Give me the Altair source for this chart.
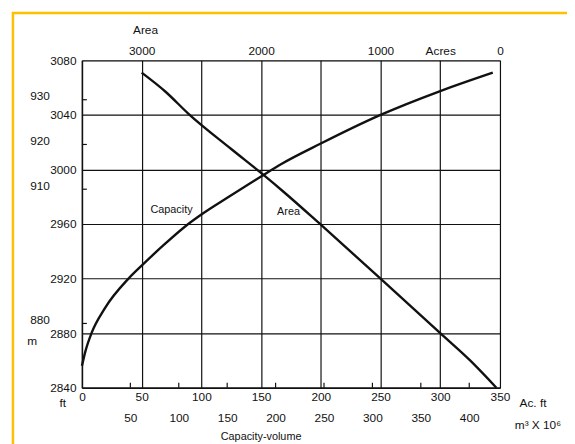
import altair as alt
import pandas as pd

# Capacity curve: capacity (1000 Ac.ft) vs elevation (ft)
cap_volume = [0, 3, 8, 19, 39, 50, 69, 89, 100, 123, 152, 167, 200, 250, 300, 344]
cap_elev = [2856, 2867, 2880, 2898, 2920, 2929.5, 2945, 2960, 2967, 2980, 2996, 3004, 3019, 3040, 3057.5, 3071]

# Area curve: area (acres) vs elevation (ft)
area_acres = [3000, 2800, 2610, 2250, 1980, 1810, 1500, 1000, 750, 500, 250, 30]
area_elev = [3071, 3057, 3041, 3015, 2996, 2983.5, 2959.5, 2920, 2900, 2880, 2860, 2840]

ft_ticks = [2840, 2880, 2920, 2960, 3000, 3040, 3080]
m_ticks = [880, 910, 920, 930]
cap_ticks = [0, 50, 100, 150, 200, 250, 300, 350]
m3_ticks = [50, 100, 150, 200, 250, 300, 350, 400]
area_ticks = [0, 500, 1000, 2000, 3000]

curve_labels = ["Capacity", "Area"]
curve_label_cap = [75, 173]
curve_label_elev = [2970, 2969]
x_title = "Capacity-volume"
x_title_cap = 150

W, H = 424, 332
FONT = "Liberation Sans"
INK = "#111111"
FT_PER_M = 3.2808
AF_TO_M3 = 1.2335

cap_df = pd.DataFrame({"cap": cap_volume, "elev": cap_elev})
area_df = pd.DataFrame({"area": area_acres, "elev": area_elev})
lab_df = pd.DataFrame({"label": curve_labels, "cap": curve_label_cap, "elev": curve_label_elev})
title_df = pd.DataFrame({"label": [x_title], "cap": [x_title_cap]})
m3_df = pd.DataFrame({"m3": m3_ticks})
m_df = pd.DataFrame({"m": m_ticks})

cap_scale = alt.Scale(domain=[0, 350], nice=False, zero=False)
ft_scale = alt.Scale(domain=[2840, 3080], nice=False, zero=False)

border = alt.Chart(pd.DataFrame({"a": [0]})).mark_rect(
    fill=None, stroke="#FFC000", strokeWidth=2.5
).encode(
    x=alt.value(-70), x2=alt.value(W + 200), y=alt.value(-48), y2=alt.value(H + 200)
)

cap_line = alt.Chart(cap_df).mark_line(
    color=INK, strokeWidth=2.4, interpolate="monotone"
).encode(
    x=alt.X("cap:Q", scale=cap_scale, axis=alt.Axis(
        orient="bottom", values=cap_ticks, format="d", grid=True, gridColor=INK,
        gridWidth=1.2, gridOpacity=1, tickSize=0, domainColor=INK, domainWidth=1.5,
        labelPadding=4, labelFlush=False, labelFontSize=12, labelFont=FONT, labelColor=INK,
        title="Ac. ft", titleX=457, titleY=15, titleAlign="center", titleBaseline="middle",
        titleFontSize=12, titleFont=FONT, titleFontWeight="normal", titleColor=INK)),
    y=alt.Y("elev:Q", scale=ft_scale, axis=alt.Axis(
        orient="left", values=ft_ticks, format="d", grid=True, gridColor=INK,
        gridWidth=1.2, gridOpacity=1, tickSize=0, domainColor=INK, domainWidth=1.5,
        labelPadding=6, labelFontSize=12, labelFont=FONT, labelColor=INK,
        title="ft", titleAngle=0, titleX=-20, titleY=347, titleAlign="center",
        titleBaseline="middle", titleFontSize=12, titleFont=FONT,
        titleFontWeight="normal", titleColor=INK)),
)

cap_text = alt.Chart(lab_df).mark_text(
    font=FONT, fontSize=11, color=INK
).encode(
    x=alt.X("cap:Q", scale=cap_scale, axis=None),
    y=alt.Y("elev:Q", scale=ft_scale, axis=None),
    text="label:N",
)

title_text = alt.Chart(title_df).mark_text(
    font=FONT, fontSize=11, color=INK
).encode(
    x=alt.X("cap:Q", scale=cap_scale, axis=None),
    y=alt.value(H + 50),
    text="label:N",
)

area_line = alt.Chart(area_df).mark_line(
    color=INK, strokeWidth=2.4, interpolate="monotone"
).encode(
    x=alt.X("area:Q", scale=alt.Scale(domain=[0, 3500], reverse=True, nice=False, zero=False),
            axis=alt.Axis(
                orient="top", values=area_ticks, format="d", grid=False, tickSize=0,
                domain=False, labelPadding=3, labelFlush=False, labelFontSize=12,
                labelFont=FONT, labelColor=INK,
                labelExpr="datum.value == 500 ? 'Acres' : datum.label",
                title="Area", titleX=64, titleY=-31, titleAlign="center",
                titleBaseline="middle", titleFontSize=12, titleFont=FONT,
                titleFontWeight="normal", titleColor=INK)),
    y=alt.Y("elev:Q", scale=ft_scale, axis=None),
)

m3_layer = alt.Chart(m3_df).mark_rule(color=INK, strokeWidth=1.2).encode(
    x=alt.X("m3:Q", scale=alt.Scale(domain=[0, 350 * AF_TO_M3], nice=False, zero=False),
            axis=alt.Axis(
                orient="bottom", offset=21, values=m3_ticks, format="d", grid=False,
                ticks=False, domain=False, labelPadding=4, labelFlush=False,
                labelFontSize=12, labelFont=FONT, labelColor=INK,
                title="m³ X 10⁶", titleX=462, titleY=16, titleAlign="center",
                titleBaseline="middle", titleFontSize=12, titleFont=FONT,
                titleFontWeight="normal", titleColor=INK)),
    y=alt.value(H), y2=alt.value(H - 5),
)

m_layer = alt.Chart(m_df).mark_rule(color=INK, strokeWidth=1.2).encode(
    y=alt.Y("m:Q", scale=alt.Scale(domain=[2840 / FT_PER_M, 3080 / FT_PER_M], nice=False, zero=False),
            axis=alt.Axis(
                orient="left", offset=30, values=m_ticks, format="d", grid=False,
                ticks=False, domain=False, labelPadding=3, labelOffset=-4, labelFontSize=12,
                labelFont=FONT, labelColor=INK,
                title="m", titleAngle=0, titleX=-21, titleY=284, titleAlign="center",
                titleBaseline="middle", titleFontSize=12, titleFont=FONT,
                titleFontWeight="normal", titleColor=INK)),
    x=alt.value(0), x2=alt.value(5),
)

chart = alt.layer(border, cap_line, cap_text, title_text, area_line, m3_layer, m_layer).resolve_scale(
    x="independent", y="independent"
).properties(
    width=W, height=H,
    padding={"left": 75, "top": 50, "right": 68, "bottom": 54},
    autosize=alt.AutoSizeParams(type="none"),
).configure_view(stroke=INK, strokeWidth=1.5).configure(background="white")

chart.save("out.html", embed_options={"renderer": "svg", "actions": False})
